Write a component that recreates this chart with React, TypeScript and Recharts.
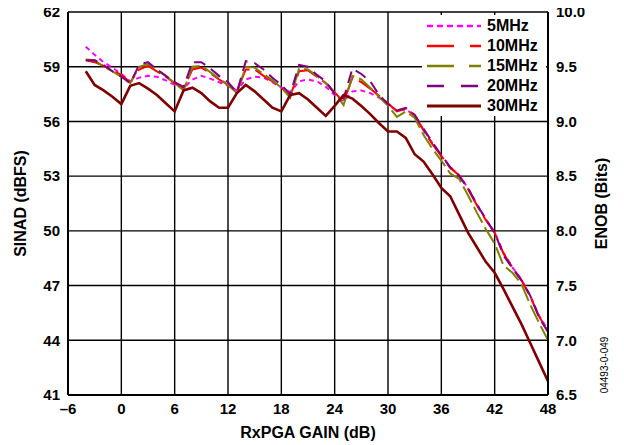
import { LineChart, Line, XAxis, YAxis, CartesianGrid, Label } from "recharts";

const gain = [
  -4, -3, -2, -1, 0, 1, 2, 3, 4, 5, 6, 7, 8, 9, 10, 11, 12, 13, 14, 15, 16, 17, 18, 19, 20, 21, 22, 23, 24,
  25, 26, 27, 28, 29, 30, 31, 32, 33, 34, 35, 36, 37, 38, 39, 40, 41, 42, 43, 44, 45, 46, 47, 48,
];

const mhz5 = [
  60.1, 59.65, 59.25, 58.95, 58.6, 58.2, 58.4, 58.5, 58.45, 58.25, 58.0, 57.8, 58.3, 58.5, 58.35, 58.15,
  57.95, 57.7, 58.3, 58.45, 58.4, 58.15, 57.85, 57.6, 58.2, 58.3, 58.2, 57.9, 57.45, 57.1, 57.65, 57.7,
  57.55, 57.3, 56.95, 56.6, 56.65, 56.35, 55.55, 54.8, 54.1, 53.5, 53.05, 52.35, 51.45, 50.65, 49.9,
  48.8, 48.0, 47.35, 46.45, 45.35, 44.55,
];

const mhz10 = [
  59.35, 59.25, 59.05, 58.8, 58.55, 58.15, 58.85, 59.05, 58.75, 58.45, 58.1, 57.8, 58.85, 58.95, 58.65,
  58.3, 58.0, 57.65, 58.85, 58.85, 58.5, 58.2, 57.85, 57.4, 58.75, 58.8, 58.45, 58.1, 57.6, 57.05, 58.4,
  58.15, 57.8, 57.4, 57.0, 56.55, 56.7, 56.35, 55.5, 54.75, 54.1, 53.45, 53.05, 52.3, 51.4, 50.6, 49.9,
  48.75, 48.0, 47.3, 46.4, 45.3, 44.5,
];

const mhz15 = [
  59.4, 59.35, 59.0, 58.75, 58.45, 58.1, 59.0, 59.15, 58.85, 58.5, 58.1, 57.7, 59.0, 59.05, 58.7, 58.35,
  58.0, 57.55, 59.0, 58.95, 58.6, 58.25, 57.85, 57.3, 58.9, 58.85, 58.5, 58.1, 57.55, 56.9, 58.5, 58.3,
  57.85, 57.35, 56.85, 56.25, 56.55, 56.2, 55.25, 54.5, 53.85, 53.15, 52.85, 51.95, 51.0, 50.1, 49.3,
  48.1, 47.7, 47.1, 45.95, 44.95, 44.0,
];

const mhz20 = [
  59.35, 59.35, 59.1, 58.75, 58.45, 58.1, 59.1, 59.25, 58.85, 58.5, 58.15, 57.9, 59.25, 59.25, 58.9, 58.5,
  58.15, 57.6, 59.3, 59.2, 58.85, 58.4, 58.0, 57.5, 59.1, 59.0, 58.55, 58.2, 57.5, 57.25, 58.9, 58.6,
  58.2, 57.45, 56.95, 56.6, 56.75, 56.35, 55.6, 54.85, 54.15, 53.5, 53.0, 52.35, 51.45, 50.65, 49.9,
  48.65, 47.95, 47.3, 46.45, 45.25, 44.45,
];

const mhz30 = [
  58.75, 58.0, 57.7, 57.35, 56.95, 57.95, 58.1, 57.8, 57.45, 57.0, 56.55, 57.7, 57.85, 57.55, 57.1, 56.75,
  56.75, 57.55, 58.0, 57.65, 57.2, 56.75, 56.55, 57.45, 57.55, 57.2, 56.75, 56.3, 56.85, 57.45, 57.25,
  56.85, 56.4, 55.9, 55.45, 55.45, 55.1, 54.2, 53.8, 53.1, 52.35, 51.9, 50.9, 49.9, 49.1, 48.3, 47.7,
  46.8, 45.85, 44.9, 43.85, 42.8, 41.75,
];

const xTicks = [-6, 0, 6, 12, 18, 24, 30, 36, 42, 48];
const sinadTicks = [41, 44, 47, 50, 53, 56, 59, 62];
const enobTicks = [6.5, 7.0, 7.5, 8.0, 8.5, 9.0, 9.5, 10.0];

const data = gain.map((g, i) => ({
  gain: g,
  mhz5: mhz5[i],
  mhz10: mhz10[i],
  mhz15: mhz15[i],
  mhz20: mhz20[i],
  mhz30: mhz30[i],
}));

const series = [
  { key: "mhz5", name: "5MHz", color: "#ff00ff", dash: "5 4", legendDash: "6 4", width: 2 },
  { key: "mhz10", name: "10MHz", color: "#ff0000", dash: "26 6", legendDash: "27 16", width: 2 },
  { key: "mhz15", name: "15MHz", color: "#808000", dash: "18 5", legendDash: "27 15", width: 2 },
  { key: "mhz20", name: "20MHz", color: "#800080", dash: "12 7", legendDash: "17 17", width: 2 },
  { key: "mhz30", name: "30MHz", color: "#800000", dash: undefined, legendDash: undefined, width: 2.6 },
];

const FONT = "'Liberation Sans', Arial, Helvetica, sans-serif";
const tickStyle = { fontSize: 15, fontWeight: 700, fill: "#000", fontFamily: FONT };
const titleStyle = { fontSize: 16, fontWeight: 700, fill: "#000", fontFamily: FONT, textAnchor: "middle" as const };

// legend box sits in the top right corner of the plot, over the grid
function ChartLegend() {
  return (
    <div
      style={{
        position: "absolute",
        left: 422,
        top: 15,
        width: 124,
        height: 101,
        background: "#fff",
        fontFamily: FONT,
        fontWeight: 700,
        fontSize: 16,
      }}
    >
      {series.map((s, i) => (
        <div key={s.key} style={{ position: "absolute", left: 0, top: 1 + i * 20, height: 20, width: 124 }}>
          <svg width={62} height={20} style={{ position: "absolute", left: 0, top: 0 }}>
            <line x1={5} x2={59} y1={10} y2={10} stroke={s.color} strokeWidth={s.width + 0.4} strokeDasharray={s.legendDash} />
          </svg>
          <span style={{ position: "absolute", left: 65, top: 0, lineHeight: "20px" }}>{s.name}</span>
        </div>
      ))}
    </div>
  );
}

export default function App() {
  // negative margin cancels the body margin so the svg can use the full page
  return (
    <div style={{ position: "relative", width: 624, height: 445, margin: "-8px 0 0 -8px" }}>
      <LineChart width={624} height={445} data={data} margin={{ top: 12, right: 16, bottom: 0, left: 0 }}>
        <CartesianGrid yAxisId="left" stroke="#000" strokeWidth={1.4} strokeOpacity={1} />
        <XAxis
          dataKey="gain"
          type="number"
          domain={[-6, 48]}
          ticks={xTicks}
          tickLine={false}
          axisLine={{ stroke: "#000", strokeWidth: 2 }}
          tick={tickStyle}
          tickFormatter={(v: number) => (v < 0 ? "\u2013" + Math.abs(v) : String(v))}
          height={50}
          interval={0}
        >
          <Label value="RxPGA GAIN (dB)" position="insideBottom" offset={7} style={titleStyle} />
        </XAxis>
        <YAxis
          yAxisId="left"
          domain={[41, 62]}
          ticks={sinadTicks}
          tickLine={false}
          axisLine={{ stroke: "#000", strokeWidth: 2 }}
          tick={tickStyle}
          width={68}
          interval={0}
        >
          <Label value="SINAD (dBFS)" angle={-90} position="insideLeft" offset={20} style={titleStyle} />
        </YAxis>
        <YAxis
          yAxisId="right"
          orientation="right"
          domain={[6.5, 10]}
          allowDataOverflow
          ticks={enobTicks}
          tickLine={false}
          axisLine={{ stroke: "#000", strokeWidth: 2 }}
          tick={tickStyle}
          tickFormatter={(v: number) => v.toFixed(1)}
          width={60}
          interval={0}
        >
          <Label value="ENOB (Bits)" angle={-90} position="insideRight" offset={7} style={titleStyle} />
          <Label
            content={() => (
              <text
                x={604}
                y={365}
                transform="rotate(-90 604 365)"
                textAnchor="middle"
                dominantBaseline="central"
                fontFamily={FONT}
                fontSize={10}
                fill="#000"
              >
                04493-0-049
              </text>
            )}
          />
        </YAxis>
        {series.map((s) => (
          <Line
            key={s.key}
            yAxisId="left"
            dataKey={s.key}
            name={s.name}
            type="linear"
            stroke={s.color}
            strokeWidth={s.width}
            strokeDasharray={s.dash}
            dot={false}
            activeDot={false}
            isAnimationActive={false}
          />
        ))}
      </LineChart>
      <ChartLegend />
    </div>
  );
}
